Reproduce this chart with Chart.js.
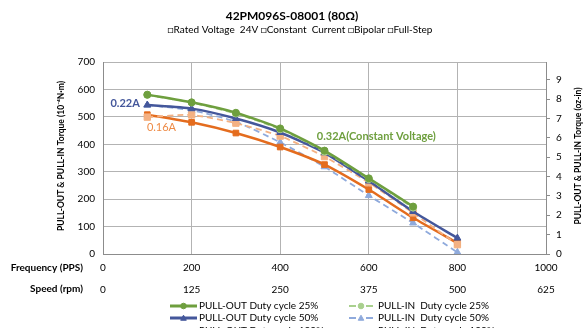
<!DOCTYPE html>
<html><head><meta charset="utf-8">
<script src="https://cdn.jsdelivr.net/npm/chart.js@4"></script>
<style>html,body{margin:0;padding:0;background:#fff;}#wrap{width:585px;height:328px;position:relative;}</style>
</head><body><div id="wrap"><canvas id="c" width="585" height="328"></canvas></div>
<script>
const titleText = '42PM096S-08001 (80\u03A9)';
const subtitleText = '\u25A1Rated Voltage  24V \u25A1Constant  Current \u25A1Bipolar \u25A1Full-Step';
const freq = [100, 200, 300, 400, 500, 600, 700, 800];
const pullOut25 = [581, 553, 515, 458, 377, 276, 173];
const pullIn25 = [580, 552, 512, 455, 373, 273, 169];
const pullOut50 = [543, 530, 494, 443, 369, 266, 155, 58];
const pullIn50 = [543, 524, 482, 407, 318, 213, 113, 6];
const pullOut100 = [508, 480, 441, 390, 326, 235, 132, 40];
const pullIn100 = [499, 507, 477, 430, 355, 260, 150, 34];
const freqTicks = [0, 200, 400, 600, 800, 1000];
const speedTicks = [0, 125, 250, 375, 500, 625];
const torqueTicks = [0, 100, 200, 300, 400, 500, 600, 700];
const ozinTicks = [0, 1, 2, 3, 4, 5, 6, 7, 8, 9];
const labels = ['PULL-OUT Duty cycle 25%', 'PULL-IN  Duty cycle 25%', 'PULL-OUT Duty cycle 50%', 'PULL-IN  Duty cycle 50%', 'PULL-OUT Duty cycle 100%', 'PULL-IN  Duty cycle 100%'];
const notes = [
  {text: '0.22A', f: 50, v: 550, color: '#44579B', bold: true},
  {text: '0.16A', f: 132, v: 460, color: '#EE8A45', bold: false},
  {text: '0.32A(Constant Voltage)', f: 617, v: 427, color: '#6E9F3E', bold: true}
];
const NM_PER_OZIN = 70.6155; // 1 oz-in in 1e-4 N·m

const FONT = 'Lato, "Open Sans", sans-serif';
function pts(vals){ return vals.map((v,i)=>({x: freq[i], y: v})); }

const styles = [
  {c:'#6E9F3E', dash:[], w:2.5, pt:'circle', r:3.5, fill:'#6E9F3E'},
  {c:'#A9D08E', dash:[6,4], w:1.8, pt:'circle', r:3.5, fill:'#A9D08E'},
  {c:'#44579B', dash:[], w:2.5, pt:'triangle', r:4, fill:'#44579B'},
  {c:'#8FAADC', dash:[6,4], w:1.8, pt:'triangle', r:4, fill:'#8FAADC'},
  {c:'#E46C1E', dash:[], w:2.5, pt:'rect', r:4, fill:'#E46C1E'},
  {c:'#F4B183', dash:[6,4], w:1.8, pt:'rect', r:4.5, fill:'#F4B183'}
];
const series = [pullOut25, pullIn25, pullOut50, pullIn50, pullOut100, pullIn100];
const drawOrder = [0, 1, 2, 5, 4, 3];

const datasets = series.map((s,i)=>({
  label: labels[i], data: pts(s), xAxisID:'x', yAxisID:'y',
  borderColor: styles[i].c, backgroundColor: styles[i].fill, borderWidth: styles[i].w,
  borderDash: styles[i].dash, pointStyle: styles[i].pt, pointRadius: styles[i].r,
  pointBackgroundColor: styles[i].fill, pointBorderColor: styles[i].c, pointBorderWidth: 1,
  tension: 0.2, fill: false, order: drawOrder[i]
}));

const GRID = '#B3B3B3';
const extras = {
  id: 'extras',
  afterDraw(chart){
    const ctx = chart.ctx; const xs = chart.scales.x, ys = chart.scales.y;
    ctx.save();
    ctx.fillStyle = '#000'; ctx.textAlign = 'center'; ctx.textBaseline = 'middle';
    ctx.font = 'bold 12px ' + FONT; ctx.fillText(titleText, 292, 16);
    ctx.font = '10px ' + FONT; ctx.fillText(subtitleText, 300, 30);
    // axis titles
    ctx.font = 'bold 8.5px ' + FONT;
    ctx.save(); ctx.translate(61, 156); ctx.rotate(-Math.PI/2);
    ctx.fillText('PULL-OUT & PULL-IN Torque (10\u207B\u2074N\u00B7m)', 0, 0); ctx.restore();
    ctx.save(); ctx.translate(578, 156); ctx.rotate(-Math.PI/2);
    ctx.fillText('PULL-OUT & PULL-IN Torque (oz-in)', 0, 0); ctx.restore();
    ctx.textAlign = 'right';
    ctx.font = 'bold 10px ' + FONT;
    ctx.fillText('Frequency (PPS)', 83, 268);
    ctx.fillText('Speed (rpm)', 83, 289);
    // annotations
    notes.forEach(n=>{
      ctx.font = (n.bold?'bold ':'') + '11px ' + FONT; ctx.fillStyle = n.color; ctx.textAlign='center';
      ctx.fillText(n.text, xs.getPixelForValue(n.f), ys.getPixelForValue(n.v));
    });
    // legend
    const cols = [{x0:170, x1:197, tx:199}, {x0:349, x1:373, tx:378}];
    const rows = [306, 318, 331];
    ctx.font = '10px ' + FONT; ctx.textAlign='left';
    chart.data.datasets.forEach((d,i)=>{
      const col = cols[i%2], y = rows[Math.floor(i/2)];
      const st = styles[i]; const mx = (col.x0+col.x1)/2;
      ctx.setLineDash([]);
      ctx.strokeStyle = st.c; ctx.lineWidth = st.dash.length ? 2 : 3;
      ctx.beginPath();
      if (st.dash.length){ ctx.moveTo(col.x0,y); ctx.lineTo(mx-5,y); ctx.moveTo(mx+5,y); ctx.lineTo(col.x1,y); }
      else { ctx.moveTo(col.x0,y); ctx.lineTo(col.x1,y); }
      ctx.stroke();
      ctx.fillStyle = st.fill; ctx.strokeStyle = st.c; ctx.lineWidth = 1;
      const r = 2.8;
      ctx.beginPath();
      if (st.pt==='circle'){ ctx.arc(mx,y,r,0,Math.PI*2); }
      else if (st.pt==='triangle'){ ctx.moveTo(mx,y-r); ctx.lineTo(mx+r,y+r*0.8); ctx.lineTo(mx-r,y+r*0.8); ctx.closePath(); }
      else { ctx.rect(mx-r*0.8,y-r*0.8,r*1.6,r*1.6); }
      ctx.fill(); ctx.stroke();
      ctx.fillStyle = '#000'; ctx.fillText(d.label, col.tx, y);
    });
    ctx.restore();
  }
};

const tickFont = {family:FONT, size:10};
const plain = v => String(v);
new Chart(document.getElementById('c'), {
  type: 'line',
  data: { datasets },
  plugins: [extras],
  options: {
    responsive: false, animation: false, devicePixelRatio: 1,
    layout: { padding: { top: 62, bottom: 30, left: 0, right: 0 } },
    plugins: { legend: {display:false}, title:{display:false}, tooltip:{enabled:false} },
    scales: {
      x: { type:'linear', position:'bottom', min:0, max:1000,
        afterBuildTicks(s){ s.ticks = freqTicks.map(v=>({value:v})); },
        afterFit(s){ s.height = 22; },
        grid: { color: GRID, lineWidth: 1, drawTicks:false },
        border: { color: '#8C8C8C', width: 1 },
        ticks: { padding: 8, color:'#000', font:tickFont, maxRotation:0, callback: plain } },
      x2: { type:'linear', position:'bottom', min:0, max:625,
        afterBuildTicks(s){ s.ticks = speedTicks.map(v=>({value:v})); },
        afterFit(s){ s.height = 22; },
        grid: { display:false, drawTicks:false }, border:{display:false},
        ticks: { padding: 8, color:'#000', font:tickFont, maxRotation:0, callback: plain } },
      y: { type:'linear', position:'left', min:0, max:700,
        afterBuildTicks(s){ s.ticks = torqueTicks.map(v=>({value:v})); },
        afterFit(s){ s.width = 103; },
        grid: { color: GRID, lineWidth: 1, drawTicks:false },
        border: { color: '#8C8C8C', width: 1 },
        ticks: { padding: 8, color:'#000', font:tickFont, callback: plain } },
      y2: { type:'linear', position:'right', min:0, max:700/NM_PER_OZIN,
        afterBuildTicks(s){ s.ticks = ozinTicks.map(v=>({value:v})); },
        afterFit(s){ s.width = 39; },
        grid: { drawOnChartArea:false, color:'#8C8C8C', tickLength:4 },
        border: { color: '#8C8C8C', width: 1 },
        ticks: { padding: 6, color:'#000', font:tickFont, callback: plain } }
    }
  }
});
</script></body></html>
